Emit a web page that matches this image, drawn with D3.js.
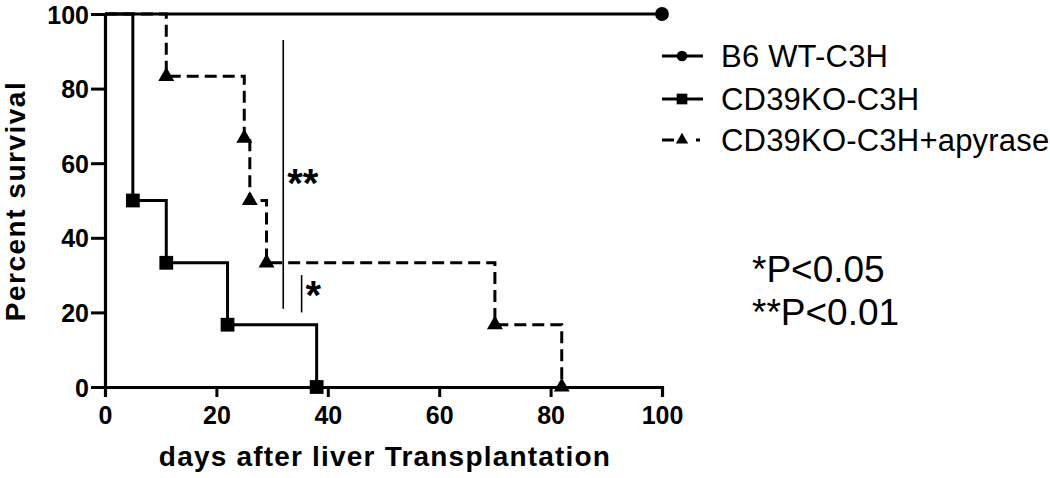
<!DOCTYPE html>
<html>
<head>
<meta charset="utf-8">
<script src="https://cdn.jsdelivr.net/npm/d3@7"></script>
<style>
  body { margin: 0; background: #fff; }
  svg { display: block; }
  text { font-family: "Liberation Sans", Arial, sans-serif; fill: #000; }
</style>
</head>
<body>
<svg id="chart" width="1050" height="478"></svg>
<script>
(function () {

  // survival steps: [day, percent]
  var wtSteps = [[0, 100], [100, 100]]
  var koSteps = [[0, 100], [5, 50], [11, 33.3], [22, 16.7], [38, 0]]
  var apySteps = [[0, 100], [11, 83.3], [25, 66.7], [26, 50], [29, 33.3], [70, 16.7], [82, 0]]

  var wtMarks = [[100, 100]]
  var koMarks = [[5, 50], [11, 33.3], [22, 16.7], [38, 0]]
  var apyMarks = [[11, 83.3], [25, 66.7], [26, 50], [29, 33.3], [70, 16.7], [82, 0]]

  var legendNames = ['B6 WT-C3H', 'CD39KO-C3H', 'CD39KO-C3H+apyrase']
  var xTicks = [0, 20, 40, 60, 80, 100]
  var yTicks = [0, 20, 40, 60, 80, 100]

  // significance brackets: [day, top %, bottom %, label]
  var sigMarks = [[32, 93, 21, '**'], [35.3, 30, 20, '*']]
  var pNotes = ['*P<0.05', '**P<0.01']

  var svg = d3.select('#chart')

  var x = d3.scaleLinear().domain([0, 100]).range([105, 662])
  var y = d3.scaleLinear().domain([0, 100]).range([387, 14])

  // axes
  var xAxis = svg.append('g')
    .attr('transform', 'translate(0,' + y(0) + ')')
    .call(d3.axisBottom(x).tickValues(xTicks).tickSize(10).tickPadding(8))
  var yAxis = svg.append('g')
    .attr('transform', 'translate(' + x(0) + ',0)')
    .call(d3.axisLeft(y).tickValues(yTicks).tickSize(14).tickPadding(2))

  ;[xAxis, yAxis].forEach(function (g) {
    g.select('.domain').attr('stroke', '#000').attr('stroke-width', 3.2)
    g.selectAll('.tick line').attr('stroke', '#000').attr('stroke-width', 3)
    g.selectAll('.tick text')
      .style('font-family', '"Liberation Sans", Arial, sans-serif')
      .style('font-size', '25px')
      .style('font-weight', 'bold')
      .attr('fill', '#000')
  })
  yAxis.selectAll('.tick text').attr('dy', '0.36em')
  xAxis.selectAll('.tick text').attr('dy', '0.76em')

  // axis titles
  svg.append('text')
    .attr('x', 385).attr('y', 466)
    .attr('text-anchor', 'middle')
    .style('font-size', '28px').style('font-weight', 'bold')
    .style('letter-spacing', '1.2px')
    .text('days after liver Transplantation')

  svg.append('text')
    .attr('transform', 'translate(25,201) rotate(-90)')
    .attr('text-anchor', 'middle')
    .style('font-size', '28px').style('font-weight', 'bold')
    .style('letter-spacing', '1.5px')
    .text('Percent survival')

  var line = d3.line()
    .x(function (d) { return x(d[0]) })
    .y(function (d) { return y(d[1]) })
    .curve(d3.curveStepAfter)

  var series = [
    { steps: wtSteps, marks: wtMarks, dash: null, legDash: null, sym: d3.symbolCircle, size: 150 },
    { steps: koSteps, marks: koMarks, dash: null, legDash: null, sym: d3.symbolSquare, size: 190 },
    { steps: apySteps, marks: apyMarks, dash: '12,6', legDash: '12,22,4', sym: d3.symbolTriangle, size: 110 }
  ]

  series.forEach(function (s) {
    svg.append('path')
      .attr('d', line(s.steps))
      .attr('fill', 'none')
      .attr('stroke', '#000')
      .attr('stroke-width', 3)
      .attr('stroke-dasharray', s.dash)

    svg.append('g')
      .selectAll('path')
      .data(s.marks)
      .join('path')
      .attr('transform', function (d) { return 'translate(' + x(d[0]) + ',' + y(d[1]) + ')' })
      .attr('d', d3.symbol().type(s.sym).size(s.size))
      .attr('fill', '#000')
  })

  // significance lines
  sigMarks.forEach(function (m) {
    svg.append('line')
      .attr('x1', x(m[0])).attr('x2', x(m[0]))
      .attr('y1', y(m[1])).attr('y2', y(m[2]))
      .attr('stroke', '#000').attr('stroke-width', 1.6)
    svg.append('text')
      .attr('x', x(m[0]) + 4)
      .attr('y', m[3] === '**' ? 197 : 309)
      .style('font-size', '40px').style('font-weight', 'bold')
      .text(m[3])
  })

  // legend
  var legY = [56, 99, 140]
  var leg = svg.append('g')
  series.forEach(function (s, i) {
    leg.append('line')
      .attr('x1', 662).attr('x2', 703)
      .attr('y1', legY[i]).attr('y2', legY[i])
      .attr('stroke', '#000').attr('stroke-width', 3)
      .attr('stroke-dasharray', s.legDash)
    leg.append('path')
      .attr('transform', 'translate(682,' + legY[i] + ')')
      .attr('d', d3.symbol().type(s.sym).size(s.size * 0.6))
      .attr('fill', '#000')
    leg.append('text')
      .attr('x', 721).attr('y', legY[i])
      .attr('dy', '0.36em')
      .style('font-size', '31px')
      .style('letter-spacing', '0.2px')
      .text(legendNames[i])
  })

  // p-value notes
  svg.selectAll('.pnote')
    .data(pNotes)
    .join('text')
    .attr('class', 'pnote')
    .attr('x', 752)
    .attr('y', function (d, i) { return 282 + i * 43 })
    .style('font-size', '37px')
    .text(function (d) { return d })

})()
</script>
</body>
</html>
